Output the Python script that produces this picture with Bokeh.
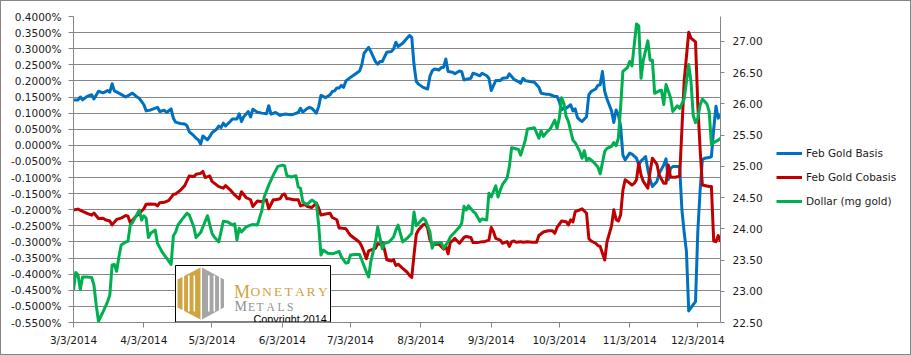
import pandas as pd
from bokeh.plotting import figure
from bokeh.layouts import row
from bokeh.models import (Range1d, LinearAxis, FixedTicker, NumeralTickFormatter,
                          Legend, LegendItem)
from bokeh.embed import file_html
from bokeh.resources import INLINE
from bokeh.core.properties import value

# ---------------- data ----------------
start_date = "3/3/2014"
end_date = "12/13/2014"
x_tick_labels = ["3/3/2014", "4/3/2014", "5/3/2014", "6/3/2014", "7/3/2014",
                 "8/3/2014", "9/3/2014", "10/3/2014", "11/3/2014", "12/3/2014"]
left_ticks = [0.40, 0.35, 0.30, 0.25, 0.20, 0.15, 0.10, 0.05, 0.00, -0.05, -0.10,
              -0.15, -0.20, -0.25, -0.30, -0.35, -0.40, -0.45, -0.50, -0.55]
right_ticks = [22.5, 23.0, 23.5, 24.0, 24.5, 25.0, 25.5, 26.0, 26.5, 27.0]

# days after 3/3/2014 ; values in percent
basis_day = [0, 2, 3, 4, 6, 8, 9, 11, 13, 15, 16, 17, 18, 20, 23, 26, 28, 29, 31, 32, 34, 37, 38, 40, 41, 43, 44, 45, 47,
             49, 50, 51, 53, 54, 55, 56, 57, 59, 60, 61, 63, 64, 65, 66, 67, 69, 70, 72, 73, 74, 75, 77, 78, 79, 81, 83, 85, 86, 87, 89, 91, 93, 96,
             97, 99, 100, 101, 103, 104, 105, 107, 108, 109, 111, 113, 114, 115, 116, 117, 118, 119, 120, 122, 124, 126, 127, 128, 130, 131, 133, 134, 135, 136, 138, 140, 141, 142, 143,
             145, 147, 148, 149, 150, 151, 152, 154, 156, 157, 158, 159, 161, 162, 163, 164, 165, 167, 168, 170, 171, 172, 173, 175, 176, 177, 179, 180, 182, 183, 184, 186, 188, 189, 191, 192,
             194, 196, 197, 198, 199, 201, 203, 205, 206, 208, 209, 210, 212, 213, 214, 215, 216, 217, 219, 220, 221, 222, 223, 224, 226, 227, 228, 230, 231, 232, 233, 234, 235, 237, 238, 239, 240, 241, 242, 243,
             244, 245, 246, 248, 249, 250, 251, 252, 253, 254, 255, 257, 258, 260, 261, 262, 263, 264, 267, 268, 269, 270, 271, 272, 274, 275, 276, 277, 278, 280, 281, 282, 283, 284, 285]
basis_pct = [0.141, 0.141, 0.150, 0.141, 0.152, 0.157, 0.144, 0.168, 0.163, 0.170, 0.165, 0.191, 0.169, 0.162, 0.150, 0.162, 0.150, 0.146, 0.126, 0.107, 0.110, 0.118, 0.105, 0.109, 0.102, 0.113, 0.084, 0.072, 0.068,
             0.066, 0.061, 0.042, 0.030, 0.022, 0.017, 0.004, 0.029, 0.017, 0.027, 0.039, 0.050, 0.060, 0.055, 0.069, 0.060, 0.074, 0.082, 0.082, 0.098, 0.074, 0.089, 0.105, 0.088, 0.112, 0.103, 0.100, 0.098, 0.123, 0.097, 0.102, 0.093, 0.097, 0.095,
             0.097, 0.102, 0.115, 0.103, 0.115, 0.118, 0.115, 0.100, 0.121, 0.155, 0.148, 0.157, 0.167, 0.169, 0.178, 0.178, 0.186, 0.180, 0.200, 0.211, 0.221, 0.231, 0.250, 0.286, 0.304, 0.291, 0.260, 0.252, 0.260, 0.260, 0.289, 0.291, 0.299, 0.320, 0.307,
             0.317, 0.333, 0.341, 0.335, 0.250, 0.198, 0.190, 0.180, 0.175, 0.214, 0.231, 0.237, 0.234, 0.242, 0.242, 0.268, 0.229, 0.227, 0.222, 0.231, 0.229, 0.203, 0.205, 0.208, 0.224, 0.222, 0.216, 0.224, 0.216, 0.208, 0.170, 0.201, 0.201, 0.208, 0.210, 0.222,
             0.205, 0.198, 0.193, 0.208, 0.201, 0.198, 0.196, 0.180, 0.162, 0.159, 0.159, 0.157, 0.152, 0.152, 0.136, 0.110, 0.117, 0.115, 0.126, 0.107, 0.113, 0.086, 0.079, 0.074, 0.089, 0.157, 0.167, 0.175, 0.186, 0.188, 0.229, 0.167, 0.144, 0.107, 0.071, 0.110, 0.095, 0.060, -0.030, -0.045,
             -0.035, -0.024, -0.027, -0.040, -0.061, -0.048, -0.042, -0.035, -0.076, -0.107, -0.128, -0.112, -0.087, -0.061, -0.042, -0.107, -0.071, -0.066, -0.066, -0.200, -0.270, -0.330, -0.514, -0.504, -0.485, -0.268, -0.143, -0.045, -0.040, -0.038, -0.035, 0.050, 0.121, 0.084, 0.095]

cobasis_day = [0, 2, 4, 6, 8, 9, 11, 13, 14, 16, 17, 19, 21, 23, 24, 25, 27, 29, 31, 32, 34, 36, 37, 38, 40, 42, 44, 45, 47,
               49, 51, 53, 54, 56, 57, 58, 60, 61, 64, 66, 67, 69, 71, 73, 74, 76, 78, 79, 81, 83, 85, 86, 88, 89, 91, 92, 93, 94,
               95, 97, 99, 100, 102, 103, 105, 107, 108, 109, 111, 113, 114, 116, 117, 118, 120, 121, 122, 124, 126, 127, 128, 129, 130, 132, 133, 134, 135, 136, 137, 138, 140, 141, 142, 143,
               145, 147, 148, 149, 150, 151, 152, 154, 155, 156, 157, 158, 160, 161, 163, 164, 165, 166, 167, 168, 170, 172, 173, 175, 176, 178, 180, 181, 183, 184, 185, 186, 188, 189, 191, 192, 193,
               194, 195, 197, 198, 200, 202, 204, 205, 207, 209, 211, 212, 213, 215, 217, 218, 219, 220, 221, 223, 224, 226, 227, 228, 230, 231, 232, 234, 235, 236, 237, 238, 239, 240, 241, 242, 243,
               244, 246, 247, 248, 249, 250, 251, 253, 254, 255, 257, 258, 260, 261, 262, 263, 265, 267, 268, 269, 271, 272, 274, 275, 276, 277, 280, 281, 282, 283, 284, 285]
cobasis_pct = [-0.201, -0.198, -0.205, -0.211, -0.217, -0.210, -0.227, -0.226, -0.231, -0.235, -0.247, -0.230, -0.226, -0.218, -0.220, -0.240, -0.224, -0.211, -0.197, -0.183, -0.182, -0.183, -0.188, -0.178, -0.177, -0.171, -0.152, -0.151, -0.140,
               -0.125, -0.095, -0.097, -0.090, -0.087, -0.081, -0.100, -0.095, -0.112, -0.128, -0.133, -0.125, -0.138, -0.154, -0.166, -0.144, -0.162, -0.169, -0.190, -0.173, -0.175, -0.169, -0.197, -0.169, -0.169, -0.166, -0.154, -0.151, -0.166,
               -0.166, -0.169, -0.169, -0.188, -0.183, -0.190, -0.193, -0.179, -0.195, -0.216, -0.213, -0.211, -0.224, -0.231, -0.257, -0.257, -0.259, -0.270, -0.279, -0.290, -0.301, -0.314, -0.332, -0.352, -0.328, -0.322, -0.320, -0.305, -0.307, -0.301, -0.324, -0.355, -0.359, -0.355, -0.373, -0.369,
               -0.382, -0.394, -0.404, -0.410, -0.340, -0.276, -0.262, -0.247, -0.244, -0.257, -0.293, -0.309, -0.307, -0.307, -0.322, -0.312, -0.337, -0.301, -0.296, -0.289, -0.304, -0.286, -0.283, -0.286, -0.302, -0.302, -0.299, -0.299, -0.294, -0.255, -0.268, -0.289, -0.294, -0.304, -0.299, -0.314, -0.299,
               -0.297, -0.301, -0.299, -0.301, -0.299, -0.301, -0.301, -0.280, -0.269, -0.265, -0.265, -0.273, -0.255, -0.235, -0.237, -0.247, -0.231, -0.238, -0.206, -0.200, -0.197, -0.211, -0.289, -0.297, -0.304, -0.311, -0.314, -0.356, -0.300, -0.275, -0.250, -0.200, -0.230, -0.235, -0.216, -0.140, -0.107,
               -0.112, -0.123, -0.118, -0.107, -0.055, -0.092, -0.112, -0.133, -0.081, -0.040, -0.059, -0.092, -0.118, -0.118, -0.061, -0.099, -0.099, -0.096, 0.050, 0.200, 0.351, 0.333, 0.321, 0.126, -0.009, -0.123, -0.128, -0.128, -0.297, -0.299, -0.280, -0.299]

dollar_day = [0, 1, 2, 3, 4, 6, 8, 9, 10, 11, 13, 15, 16, 17, 18, 19, 20, 21, 23, 24, 25, 26, 27, 29, 30, 31, 32, 33, 34, 36, 37, 39, 41, 43, 44, 45, 46, 48,
              50, 51, 53, 54, 56, 57, 59, 61, 62, 64, 66, 68, 70, 71, 72, 73, 74, 76, 78, 79, 81, 83, 84, 86, 88, 90, 92, 93, 94, 96,
              98, 99, 100, 101, 103, 104, 105, 107, 108, 109, 110, 112, 114, 115, 117, 118, 120, 121, 122, 124, 126, 127, 129, 130, 131, 133, 134, 136, 137, 139, 141, 142, 143, 145,
              147, 149, 150, 151, 152, 154, 155, 157, 158, 159, 161, 162, 163, 165, 166, 168, 170, 171, 172, 173, 174, 176, 177, 179, 180, 182, 183, 184, 186, 187, 188, 189, 191, 192, 193,
              196, 197, 199, 200, 202, 203, 205, 206, 207, 208, 210, 212, 213, 214, 215, 216, 217, 218, 220, 221, 223, 224, 225, 226, 227, 229, 231, 232, 234, 235, 237, 238, 239, 240, 241, 242,
              244, 245, 246, 248, 249, 250, 251, 253, 254, 255, 256, 258, 259, 260, 261, 263, 264, 266, 267, 269, 271, 272, 273, 274, 275, 276, 277, 279, 280, 281, 282, 283, 284, 285]
dollar_mg = [23.02, 23.30, 23.26, 23.03, 23.23, 23.23, 23.22, 23.10, 22.78, 22.52, 22.67, 22.83, 22.94, 23.42, 23.43, 23.32, 23.55, 23.74, 23.79, 23.80, 24.06, 24.10, 24.17, 24.30, 24.14, 24.21, 24.17, 23.86, 23.93, 23.98, 23.77, 23.63, 23.53, 23.43, 23.89, 23.95, 24.06, 24.16,
             24.25, 24.22, 24.03, 23.86, 23.94, 24.03, 24.21, 23.93, 23.87, 23.79, 24.12, 24.11, 24.06, 24.08, 23.82, 24.01, 23.95, 24.03, 24.06, 24.07, 24.06, 24.30, 24.51, 24.70, 24.86, 25.00, 25.02, 25.01, 24.85, 24.83,
             24.85, 24.67, 24.65, 24.43, 24.39, 24.43, 24.46, 24.41, 24.06, 23.58, 23.66, 23.61, 23.60, 23.61, 23.64, 23.55, 23.45, 23.46, 23.58, 23.59, 23.59, 23.50, 23.31, 23.23, 23.48, 23.79, 24.03, 23.68, 23.77, 23.79, 23.87, 23.98, 24.06, 23.79,
             23.85, 23.93, 24.27, 24.05, 24.09, 24.17, 24.14, 23.95, 23.69, 23.77, 23.78, 23.78, 23.69, 23.79, 23.87, 23.95, 24.03, 24.09, 24.36, 24.30, 24.37, 24.28, 24.25, 24.12, 24.16, 24.14, 24.57, 24.51, 24.69, 24.51, 24.62, 24.71, 24.81, 25.00, 25.30,
             25.27, 25.18, 25.42, 25.60, 25.61, 25.62, 25.45, 25.57, 25.48, 25.53, 25.60, 25.74, 25.61, 25.77, 26.10, 26.01, 25.80, 25.72, 25.42, 25.38, 25.24, 25.13, 25.25, 25.09, 25.13, 25.07, 24.99, 24.88, 25.24, 25.29, 25.32, 25.38, 25.33, 25.45, 25.95, 26.52,
             26.58, 26.68, 26.61, 27.28, 27.25, 26.41, 26.70, 27.01, 26.70, 26.70, 26.17, 26.21, 26.22, 25.99, 26.31, 26.10, 25.88, 25.97, 25.93, 26.08, 26.63, 26.36, 25.81, 25.70, 25.77, 25.98, 26.08, 26.00, 25.88, 25.35, 25.38, 25.40, 25.42, 25.45]

series_names = ["Feb Gold Basis", "Feb Gold Cobasis", "Dollar (mg gold)"]
series_colors = ["#0070C0", "#C00000", "#00B050"]

# ---------------- layout helpers ----------------
t0 = pd.Timestamp(start_date)
x_end = (pd.Timestamp(end_date) - t0).days
x_ticks = [(pd.Timestamp(s) - t0).days for s in x_tick_labels]
y_lo, y_hi = left_ticks[-1], left_ticks[0]

W, H = 911, 355
WA = 776                            # width of the chart part; the rest holds the legend
FL, FR, FT, FB = 72, 719, 15, 321   # frame edges in px

def sx(px):
    return (px - FL) / (FR - FL) * x_end

def sy(py):
    return y_hi - (py - FT) / (FB - FT) * (y_hi - y_lo)

FONT = "DejaVu Sans"
FSIZE = "10.5px"
TXT = "#1a1a1a"
GRID = "#868686"
BORDER = "1px solid #868686"

p = figure(width=WA, height=H, output_backend="svg", toolbar_location=None,
           x_range=Range1d(0, x_end), y_range=Range1d(y_lo, y_hi),
           min_border_left=FL, min_border_right=WA - FR, min_border_top=FT,
           min_border_bottom=H - FB, outline_line_color=None,
           background_fill_color="white", border_fill_color="white")
p.styles = {"border-left": BORDER, "border-top": BORDER, "border-bottom": BORDER,
            "box-sizing": "border-box"}

p.extra_y_ranges = {"dollar": Range1d(right_ticks[0], 27.4)}

def style_axis(ax):
    ax.axis_line_color = GRID
    ax.major_tick_line_color = GRID
    ax.major_tick_out = 5
    ax.major_tick_in = 0
    ax.minor_tick_line_color = None
    ax.major_label_text_font = FONT
    ax.major_label_text_font_size = FSIZE
    ax.major_label_text_color = TXT

la = p.yaxis[0]
la.ticker = FixedTicker(ticks=left_ticks)
la.major_label_overrides = {t: f"{t:.4f}%" for t in left_ticks}
la.major_label_standoff = 7
style_axis(la)

ba = p.xaxis[0]
ba.ticker = FixedTicker(ticks=x_ticks)
ba.major_label_overrides = {t: s for t, s in zip(x_ticks, x_tick_labels)}
ba.major_label_standoff = 6
style_axis(ba)

ra = LinearAxis(y_range_name="dollar", ticker=FixedTicker(ticks=right_ticks),
                formatter=NumeralTickFormatter(format="0.00"))
style_axis(ra)
ra.major_tick_out = 4
ra.major_label_standoff = 8
p.add_layout(ra, "right")

p.xgrid.visible = False
p.ygrid.ticker = FixedTicker(ticks=left_ticks)
p.ygrid.grid_line_color = GRID
p.ygrid.grid_line_width = 1

line_kw = dict(line_width=3, line_join="round")
r1 = p.line(basis_day, basis_pct, line_color=series_colors[0], **line_kw)
r2 = p.line(cobasis_day, cobasis_pct, line_color=series_colors[1], **line_kw)
r3 = p.line(dollar_day, dollar_mg, line_color=series_colors[2], y_range_name="dollar", **line_kw)

# ---------------- logo box ----------------
p.quad(left=sx(174), right=sx(329), top=sy(264), bottom=sy(320.5),
       fill_color="white", line_color="black", line_width=1)
gold, grey, grey_txt = "#D0A441", "#A5A5A5", "#8F8F8F"
p.patch([sx(v) for v in (199, 176, 176, 199, 199)],
        [sy(v) for v in (266, 278, 306, 318, 266)], fill_color=gold, line_color=None)
p.patch([sx(v) for v in (200.5, 222.5, 222.5, 200.5, 200.5)],
        [sy(v) for v in (266, 278, 306, 318, 266)], fill_color=grey, line_color=None)
for xs in (181, 186.5, 192, 206.5, 212, 217.5):
    p.quad(left=sx(xs), right=sx(xs + 1.6), top=sy(274), bottom=sy(310),
           fill_color="white", line_color=None)
serif = value("Liberation Serif")
p.text(x=[sx(232.5)], y=[sy(290)], text=["M"], text_font=serif,
       text_font_size=value("18px"), text_color=gold, text_baseline="alphabetic")
mon_letters = ["O", "N", "E", "T", "A", "R", "Y"]
mon_x = [249, 260.5, 272.5, 283, 293.5, 305, 316.5]
p.text(x=[sx(v) for v in mon_x], y=[sy(290)] * len(mon_x), text=mon_letters,
       text_font=serif, text_font_size=value("13.5px"), text_color=gold,
       text_baseline="alphabetic")
p.text(x=[sx(233)], y=[sy(305)], text=["M"], text_font=serif,
       text_font_size=value("14px"), text_color=grey_txt, text_baseline="alphabetic")
met_letters = ["E", "T", "A", "L", "S"]
met_x = [246.5, 255, 265, 276, 285.5]
p.text(x=[sx(v) for v in met_x], y=[sy(305)] * len(met_x), text=met_letters,
       text_font=serif, text_font_size=value("11.5px"), text_color=grey_txt,
       text_baseline="alphabetic")
p.text(x=[sx(252)], y=[sy(317)], text=["Copyright 2014"], text_font=value("Liberation Sans"),
       text_font_size=value("10.8px"), text_color="black", text_baseline="alphabetic")

# ---------------- legend part ----------------
q = figure(width=W - WA, height=H, output_backend="svg", toolbar_location=None,
           x_range=Range1d(0, W - WA), y_range=Range1d(H, 0),
           min_border=0, outline_line_color=None,
           background_fill_color="white", border_fill_color="white")
q.styles = {"border-right": BORDER, "border-top": BORDER, "border-bottom": BORDER,
            "box-sizing": "border-box"}
q.axis.visible = False
q.grid.visible = False
# legend keys: line renderers that sit outside the visible range of this panel
keys = [q.line([-50, -40], [-50, -40], line_color=c, **line_kw) for c in series_colors]
legend = Legend(items=[LegendItem(label=n, renderers=[r]) for n, r in zip(series_names, keys)],
                location=(0, 111), orientation="vertical",
                glyph_width=26, glyph_height=20, label_height=20, spacing=4,
                padding=0, margin=0, label_standoff=4,
                border_line_color=None, background_fill_alpha=0,
                label_text_font=FONT, label_text_font_size=FSIZE, label_text_color=TXT)
q.add_layout(legend)

layout = row(p, q, spacing=0)
open("out.html", "w").write(file_html(layout, INLINE))
